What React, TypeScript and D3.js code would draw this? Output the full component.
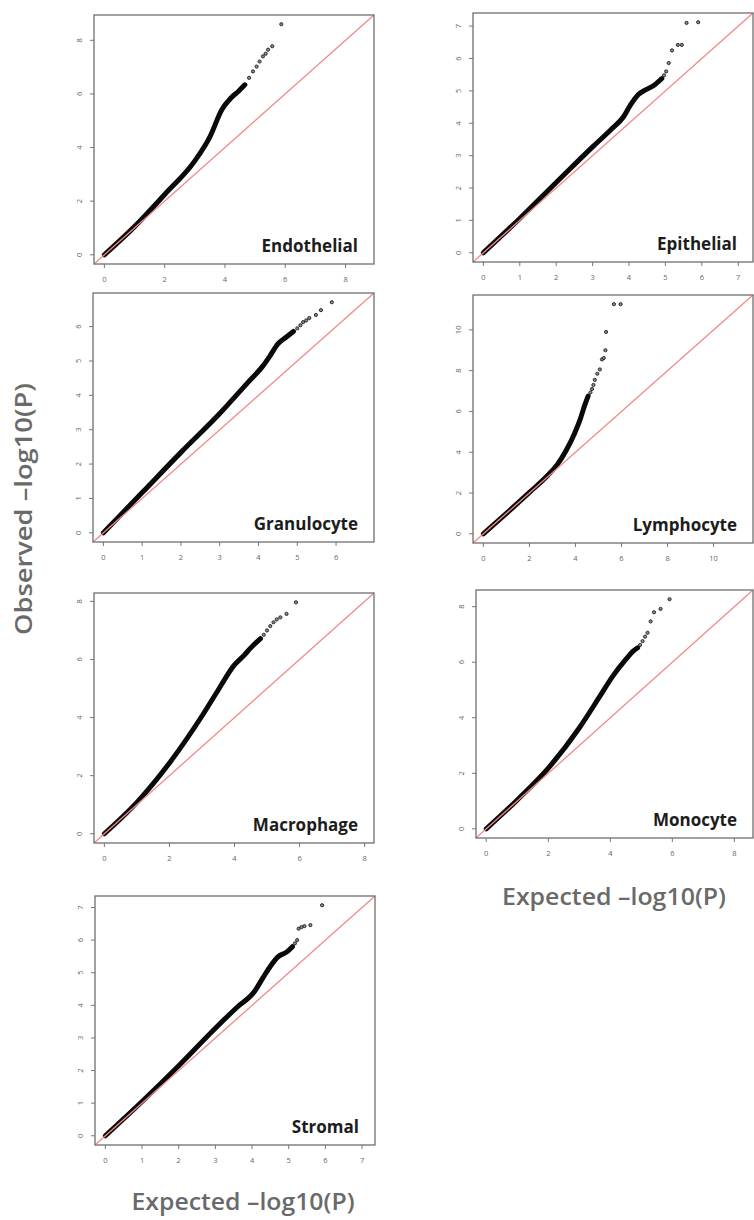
import React from 'react';
import * as d3 from 'd3';

// Q-Q curves: expected vs observed -log10(P) for each cell type.
// "Exp"/"Obs" trace the dense run of SNPs, "TailExp"/"TailObs" are the sparse top hits.
const endothelialExp = [0, 1, 2, 3, 3.5, 3.9, 4.2, 4.45, 4.66];
const endothelialObs = [0, 1.05, 2.25, 3.5, 4.4, 5.42, 5.85, 6.1, 6.34];
const endothelialTailExp = [4.8, 4.93, 5.05, 5.15, 5.26, 5.35, 5.43, 5.57, 5.87];
const endothelialTailObs = [6.6, 6.84, 7.02, 7.21, 7.4, 7.5, 7.65, 7.78, 8.6];

const epithelialExp = [0, 1, 2, 3, 3.5, 3.85, 4.05, 4.25, 4.45, 4.7, 4.9];
const epithelialObs = [0, 1.06, 2.17, 3.27, 3.8, 4.2, 4.58, 4.88, 5.03, 5.18, 5.38];
const epithelialTailExp = [4.96, 5.02, 5.09, 5.18, 5.34, 5.45, 5.58, 5.9];
const epithelialTailObs = [5.48, 5.6, 5.86, 6.25, 6.42, 6.42, 7.1, 7.12];

const granulocyteExp = [0, 1, 2, 3, 3.77, 4.11, 4.28, 4.5, 4.71, 4.9];
const granulocyteObs = [0, 1.17, 2.34, 3.47, 4.43, 4.85, 5.12, 5.5, 5.69, 5.86];
const granulocyteTailExp = [5.0, 5.08, 5.15, 5.23, 5.31, 5.48, 5.61, 5.89];
const granulocyteTailObs = [5.95, 6.04, 6.13, 6.18, 6.25, 6.34, 6.48, 6.71];

const lymphocyteExp = [0, 1, 2, 2.8, 3.2, 3.6, 3.95, 4.2, 4.4, 4.55];
const lymphocyteObs = [0, 1.0, 2.03, 2.87, 3.38, 4.1, 4.9, 5.6, 6.3, 6.75];
const lymphocyteTailExp = [4.65, 4.72, 4.78, 4.84, 4.95, 5.06, 5.15, 5.23, 5.3, 5.33, 5.67, 5.96];
const lymphocyteTailObs = [6.93, 7.1, 7.3, 7.55, 7.85, 8.06, 8.55, 8.62, 9.0, 9.9, 11.26, 11.26];

const macrophageExp = [0, 1, 2.03, 3.05, 3.5, 3.98, 4.3, 4.5, 4.8];
const macrophageObs = [0, 1.08, 2.48, 4.14, 4.95, 5.79, 6.15, 6.4, 6.72];
const macrophageTailExp = [4.9, 5.0, 5.1, 5.2, 5.3, 5.41, 5.6, 5.89];
const macrophageTailObs = [6.85, 7.0, 7.15, 7.28, 7.38, 7.45, 7.57, 7.97];

const monocyteExp = [0, 1, 2.05, 3.01, 3.65, 4.08, 4.5, 4.72, 4.88];
const monocyteObs = [0, 1.04, 2.25, 3.65, 4.75, 5.5, 6.1, 6.38, 6.52];
const monocyteTailExp = [4.96, 5.04, 5.12, 5.2, 5.3, 5.41, 5.62, 5.91];
const monocyteTailObs = [6.62, 6.76, 6.92, 7.06, 7.47, 7.8, 7.92, 8.27];

const stromalExp = [0, 1, 2, 3, 3.6, 4.05, 4.3, 4.5, 4.7, 4.95, 5.1];
const stromalObs = [0, 1.05, 2.15, 3.3, 3.95, 4.4, 4.85, 5.2, 5.48, 5.64, 5.8];
const stromalTailExp = [5.17, 5.23, 5.27, 5.35, 5.43, 5.59, 5.91];
const stromalTailObs = [5.9, 6.0, 6.35, 6.4, 6.43, 6.46, 7.07];

// axis tick values per panel
const endothelialTicks = [0, 2, 4, 6, 8];
const epithelialTicks = [0, 1, 2, 3, 4, 5, 6, 7];
const granulocyteTicks = [0, 1, 2, 3, 4, 5, 6];
const lymphocyteTicks = [0, 2, 4, 6, 8, 10];
const macrophageTicks = [0, 2, 4, 6, 8];
const monocyteTicks = [0, 2, 4, 6, 8];
const stromalTicks = [0, 1, 2, 3, 4, 5, 6, 7];

const panelNames = ['Endothelial', 'Epithelial', 'Granulocyte', 'Lymphocyte', 'Macrophage', 'Monocyte', 'Stromal'];

const yTitle = 'Observed \u2013log10(P)';
const xTitle = 'Expected \u2013log10(P)';

type Box = { x: number; y: number; w: number; h: number };

// plot frames on the page
const boxes: Box[] = [
  { x: 94, y: 15, w: 280, h: 249 },
  { x: 473, y: 13, w: 280, h: 249 },
  { x: 93, y: 293, w: 281, h: 249 },
  { x: 473, y: 295, w: 280, h: 248 },
  { x: 94, y: 593, w: 280, h: 250 },
  { x: 476, y: 590, w: 277, h: 248 },
  { x: 95, y: 896, w: 280, h: 249 },
];

const series = [
  { exp: endothelialExp, obs: endothelialObs, tExp: endothelialTailExp, tObs: endothelialTailObs, ticks: endothelialTicks },
  { exp: epithelialExp, obs: epithelialObs, tExp: epithelialTailExp, tObs: epithelialTailObs, ticks: epithelialTicks },
  { exp: granulocyteExp, obs: granulocyteObs, tExp: granulocyteTailExp, tObs: granulocyteTailObs, ticks: granulocyteTicks },
  { exp: lymphocyteExp, obs: lymphocyteObs, tExp: lymphocyteTailExp, tObs: lymphocyteTailObs, ticks: lymphocyteTicks },
  { exp: macrophageExp, obs: macrophageObs, tExp: macrophageTailExp, tObs: macrophageTailObs, ticks: macrophageTicks },
  { exp: monocyteExp, obs: monocyteObs, tExp: monocyteTailExp, tObs: monocyteTailObs, ticks: monocyteTicks },
  { exp: stromalExp, obs: stromalObs, tExp: stromalTailExp, tObs: stromalTailObs, ticks: stromalTicks },
];

const FONT = "'Open Sans', 'DejaVu Sans', sans-serif";

function QQPanel({ idx }: { idx: number }) {
  const s = series[idx];
  const box = boxes[idx];
  const top = Math.max(...s.tObs, ...s.obs);
  // equal limits on both axes, padded 4% like base R
  const lo = -0.04 * top;
  const hi = 1.04 * top;
  const x = d3.scaleLinear().domain([lo, hi]).range([box.x, box.x + box.w]);
  const y = d3.scaleLinear().domain([lo, hi]).range([box.y + box.h, box.y]);

  const band = d3
    .line<number>()
    .x((d) => x(d))
    .y((_, i) => y(s.obs[i]))
    .curve(d3.curveMonotoneX)(s.exp) as string;

  const bottom = box.y + box.h;
  return (
    <g>
      <rect x={box.x} y={box.y} width={box.w} height={box.h} fill="#fff" />
      {/* dense run of points */}
      <path d={band} fill="none" stroke="#0a0a0a" strokeWidth={5} strokeLinecap="round" strokeLinejoin="round" />
      {/* sparse upper tail */}
      {s.tExp.map((e, i) => (
        <circle key={i} cx={x(e)} cy={y(s.tObs[i])} r={1.6} fill="#8a8a8a" stroke="#1e1e1e" strokeWidth={0.9} />
      ))}
      {/* null expectation y = x */}
      <line x1={x(lo)} y1={y(lo)} x2={x(hi)} y2={y(hi)} stroke="#f08a8a" strokeWidth={1.3} />
      <rect x={box.x} y={box.y} width={box.w} height={box.h} fill="none" stroke="#6f6f6f" strokeWidth={1.3} />
      {/* x axis */}
      {s.ticks.map((t) => (
        <g key={'x' + t}>
          <line x1={x(t)} x2={x(t)} y1={bottom} y2={bottom + 4} stroke="#777" strokeWidth={1} />
          <text x={x(t)} y={bottom + 18} fontSize={7.5} fill="#666" textAnchor="middle" fontFamily={FONT}>
            {t}
          </text>
        </g>
      ))}
      {/* y axis */}
      {s.ticks.map((t) => (
        <g key={'y' + t}>
          <line x1={box.x} x2={box.x - 4} y1={y(t)} y2={y(t)} stroke="#777" strokeWidth={1} />
          <text
            transform={`translate(${box.x - 12},${y(t)}) rotate(-90)`}
            fontSize={7.5}
            fill="#666"
            textAnchor="middle"
            fontFamily={FONT}
          >
            {t}
          </text>
        </g>
      ))}
      <text
        x={box.x + box.w - 16}
        y={bottom - 12}
        textAnchor="end"
        fontSize={17}
        fontWeight={700}
        fill="#1c1c1c"
        fontFamily={FONT}
      >
        {panelNames[idx]}
      </text>
    </g>
  );
}

export default function App() {
  return (
    <svg
      width={754}
      height={1220}
      viewBox="0 0 754 1220"
      style={{ position: 'absolute', left: 0, top: 0, display: 'block', background: '#fff' }}
    >
      <rect width={754} height={1220} fill="#fff" />
      {panelNames.map((_, i) => (
        <QQPanel key={i} idx={i} />
      ))}
      <text
        transform="translate(32,509) rotate(-90)"
        textAnchor="middle"
        fontSize={23}
        fontWeight={600}
        fill="#6a6a6a"
        fontFamily={FONT}
        textLength={252}
        lengthAdjust="spacingAndGlyphs"
      >
        {yTitle}
      </text>
      <text
        x={614}
        y={905}
        textAnchor="middle"
        fontSize={23}
        fontWeight={600}
        fill="#6a6a6a"
        fontFamily={FONT}
        textLength={224}
        lengthAdjust="spacingAndGlyphs"
      >
        {xTitle}
      </text>
      <text
        x={243}
        y={1210}
        textAnchor="middle"
        fontSize={23}
        fontWeight={600}
        fill="#6a6a6a"
        fontFamily={FONT}
        textLength={223}
        lengthAdjust="spacingAndGlyphs"
      >
        {xTitle}
      </text>
    </svg>
  );
}
